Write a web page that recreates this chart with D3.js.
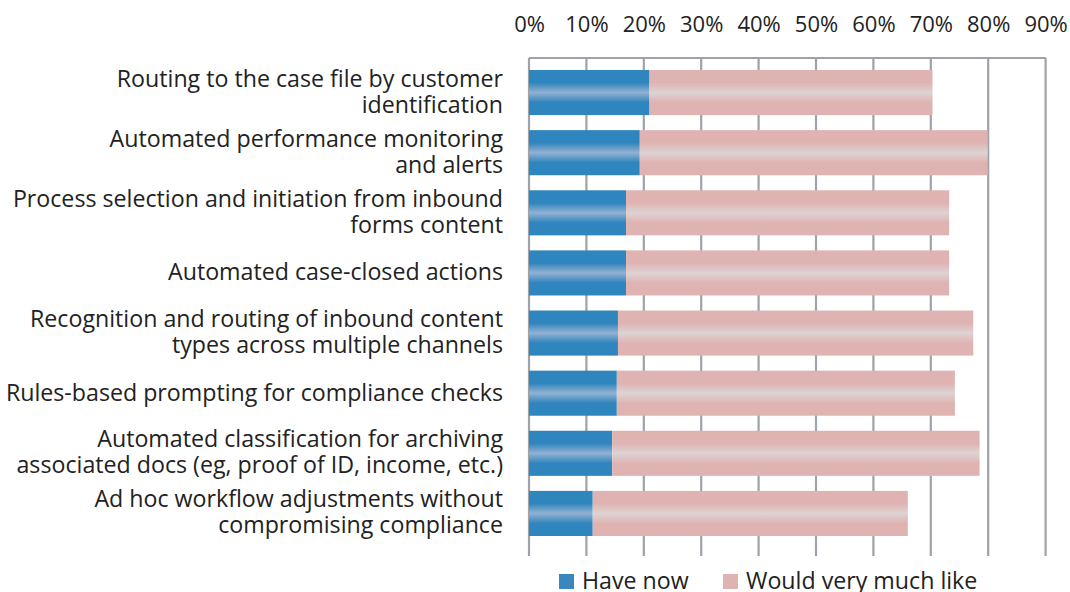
<!DOCTYPE html>
<html>
<head>
    <title>Case management features</title>
    <script src="https://cdn.jsdelivr.net/npm/d3@7"></script>
    <style>
        body { margin: 0; background: #fff; }
        text { font-family: "Open Sans", Lato, sans-serif; fill: #222; }
    </style>
</head>
<body>
    <div id="chart"></div>
    <script type="text/javascript">
        var categories = [
            ["Routing to the case file by customer", "identification"],
            ["Automated performance monitoring", "and alerts"],
            ["Process selection and initiation from inbound", "forms content"],
            ["Automated case-closed actions"],
            ["Recognition and routing of inbound content", "types across multiple channels"],
            ["Rules-based prompting for compliance checks"],
            ["Automated classification for archiving", "associated docs (eg, proof of ID, income, etc.)"],
            ["Ad hoc workflow adjustments without", "compromising compliance"]
        ];
        var haveNow = [21.0, 19.3, 16.9, 16.9, 15.5, 15.3, 14.5, 11.1];
        var wouldLike = [49.3, 60.6, 56.3, 56.3, 61.9, 58.9, 64.0, 54.9];
        var seriesNames = ["Have now", "Would very much like"];
        var tickValues = [0, 10, 20, 30, 40, 50, 60, 70, 80, 90];

        var width = 1070;
        var height = 592;
        var gridTop = 58, gridBottom = 556;
        var labelSize = "23.2px";

        var x = d3.scaleLinear()
            .domain([0, 90])
            .range([529, 1045.6]);

        var y = d3.scaleBand()
            .domain(d3.range(categories.length))
            .range([62.5, 543.5])
            .paddingInner(0.25)
            .paddingOuter(0.125);

        var svg = d3.select("#chart").append("svg")
            .attr('width', width)
            .attr('height', height);

        var defs = svg.append("defs");
        function gloss(id, base, light) {
            var g = defs.append("linearGradient")
                .attr("id", id)
                .attr("x1", 0).attr("y1", 0).attr("x2", 0).attr("y2", 1);
            [[0, base], [0.28, base], [0.5, light], [0.72, base], [1, base]].forEach(function(s) {
                g.append("stop").attr("offset", s[0]).attr("stop-color", s[1]);
            });
        }
        gloss("blueGloss", "#2f85bd", "#93b1d2");
        gloss("pinkGloss", "#e0b3b3", "#ddd3d3");

        // gridlines
        svg.append("g").selectAll("line")
            .data(tickValues)
            .enter().append("line")
                .attr('x1', function(d) { return x(d); })
                .attr('x2', function(d) { return x(d); })
                .attr('y1', gridTop)
                .attr('y2', gridBottom)
                .style('stroke', '#9ea2a9')
                .style('stroke-width', 2.2);

        svg.append("line")
            .attr('x1', x(0)).attr('x2', x(90))
            .attr('y1', gridTop).attr('y2', gridTop)
            .style('stroke', '#9ea2a9')
            .style('stroke-width', 2);

        // top axis labels
        var axis = svg.append("g")
            .attr("transform", "translate(0,32)")
            .call(d3.axisTop(x).tickValues(tickValues).tickSize(0).tickPadding(0)
                .tickFormat(function(d) { return d + "%"; }));
        axis.select(".domain").remove();
        axis.selectAll("text")
            .attr("dy", 0)
            .style("font-family", "'Open Sans', Lato, sans-serif")
            .style("font-size", "22px")
            .style("fill", "#222");

        // bars
        var bars = svg.append("g");
        bars.selectAll("rect.have")
            .data(haveNow)
            .enter().append("rect")
                .attr('class', 'have')
                .attr('x', x(0))
                .attr('y', function(d, i) { return y(i); })
                .attr('width', function(d) { return x(d) - x(0); })
                .attr('height', y.bandwidth())
                .style('fill', 'url(#blueGloss)');

        bars.selectAll("rect.like")
            .data(wouldLike)
            .enter().append("rect")
                .attr('class', 'like')
                .attr('x', function(d, i) { return x(haveNow[i]); })
                .attr('y', function(d, i) { return y(i); })
                .attr('width', function(d, i) { return x(haveNow[i] + d) - x(haveNow[i]); })
                .attr('height', y.bandwidth())
                .style('fill', 'url(#pinkGloss)');

        // category labels
        var labels = svg.append("g").selectAll("text")
            .data(categories)
            .enter().append("text")
                .attr('text-anchor', 'end')
                .style('font-size', labelSize)
                .attr('y', function(d, i) {
                    var c = y(i) + y.bandwidth() / 2;
                    return d.length === 1 ? c + 7.5 : c - 6;
                });
        labels.selectAll("tspan")
            .data(function(d) { return d; })
            .enter().append("tspan")
                .attr('x', 503)
                .attr('dy', function(d, j) { return j === 0 ? 0 : 26; })
                .text(function(d) { return d; });

        // legend
        var legendX = [559, 723];
        var legend = svg.append("g").selectAll("g")
            .data(seriesNames)
            .enter().append("g")
                .attr("transform", function(d, i) { return "translate(" + legendX[i] + ",574)"; });
        legend.append("rect")
            .attr('width', 15).attr('height', 15)
            .style('fill', function(d, i) { return i === 0 ? '#3a87be' : '#e0b3b3'; });
        legend.append("text")
            .attr('x', 23).attr('y', 15)
            .style('font-size', labelSize)
            .text(function(d) { return d; });
    </script>
</body>
</html>
